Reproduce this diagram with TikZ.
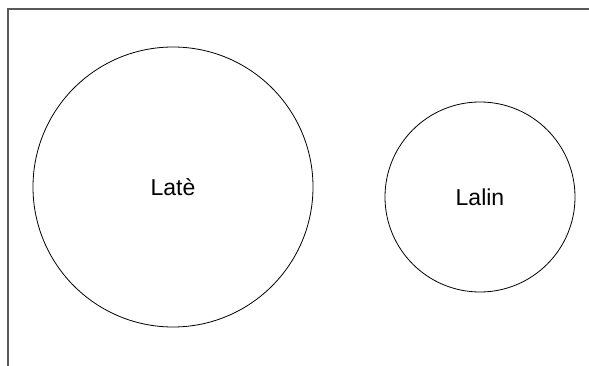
\documentclass[tikz,border=0pt]{standalone}
\usepackage{fontspec}
\setmainfont{Liberation Sans}
\usetikzlibrary{positioning}

\begin{document}
\begin{tikzpicture}[
  x=1pt,y=-1pt,
  ring/.style={draw,circle,inner sep=0pt,line width=0.8pt,font=\fontsize{23}{26}\selectfont},
  frame/.style={draw=black!65,line width=2pt}
]
\useasboundingbox (0,0) rectangle (589,366);
\node[ring,minimum size=280pt] (late)  at (173,187) {Latè};
\node[ring,minimum size=190pt] (lalin) at (480,197) {Lalin};
\coordinate (corner) at (8,9);
\coordinate (top) at (590,9);
\coordinate (bottom) at (8,367);
\draw[frame] (top) -- (corner) -- (bottom);
\end{tikzpicture}
\end{document}
